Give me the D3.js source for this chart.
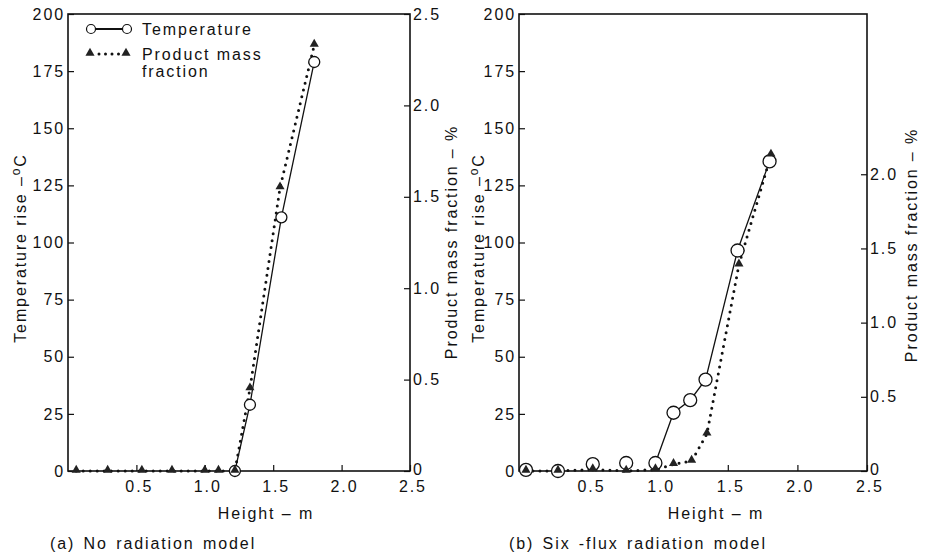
<!DOCTYPE html>
<html>
<head>
<meta charset="utf-8" />
<style>
  body { margin: 0; background: #fff; }
  svg text { font-family: "Liberation Sans", Arial, sans-serif; fill: #111; font-size: 16px; letter-spacing: 1.9px; }
</style>
</head>
<body>
<div id="chart"></div>
<script src="https://d3js.org/d3.v7.min.js"></script>
<script>
// shared ticks
const heightTicks = [0.5, 1.0, 1.5, 2.0, 2.5];
const tempTicks = [0, 25, 50, 75, 100, 125, 150, 175, 200];

// (a) no radiation model
const aTempHeight = [1.22, 1.33, 1.56, 1.80];
const aTemp = [0, 29, 111, 179];
const aProdHeight = [0.06, 0.29, 0.54, 0.76, 1.0, 1.1, 1.22, 1.33, 1.55, 1.80];
const aProd = [0, 0, 0, 0, 0, 0, 0, 0.45, 1.55, 2.33];
const aProdTicks = [0, 0.5, 1.0, 1.5, 2.0, 2.5];

// (b) six-flux radiation model
const bTempHeight = [0.05, 0.28, 0.53, 0.77, 0.98, 1.11, 1.23, 1.34, 1.57, 1.80];
const bTemp = [0.5, 0, 3, 3.5, 3.5, 25.5, 31, 40, 96.5, 135.5];
const bProdHeight = [0.05, 0.28, 0.53, 0.77, 0.98, 1.11, 1.24, 1.35, 1.58, 1.81];
const bProd = [0, 0, 0.01, 0, 0.01, 0.045, 0.067, 0.25, 1.39, 2.13];
const bProdTicks = [0, 0.5, 1.0, 1.5, 2.0];

const width = 926, height = 560;

const svg = d3.select("#chart").append("svg")
  .attr("width", width)
  .attr("height", height);

const zip = (xs, ys) => xs.map((x, i) => ({x: x, y: ys[i]}));

function drawPanel(p) {
  const g = svg.append("g");
  const x = d3.scaleLinear().domain([0, 2.5]).range([p.left, p.right]);
  const yT = d3.scaleLinear().domain([0, 200]).range([p.bottom, p.top]);
  const yP = d3.scaleLinear().domain([0, p.prodMax]).range([p.bottom, p.top]);

  const fmt = d => d === 0 ? "0" : d.toFixed(1);

  const xAxis = g.append("g").attr("transform", `translate(0,${p.bottom})`)
    .call(d3.axisBottom(x).tickValues(heightTicks).tickFormat(fmt).tickSize(-6).tickPadding(10));
  const yAxisL = g.append("g").attr("transform", `translate(${p.left},0)`)
    .call(d3.axisLeft(yT).tickValues(tempTicks).tickSize(-6).tickPadding(3));
  const yAxisR = g.append("g").attr("transform", `translate(${p.right},0)`)
    .call(d3.axisRight(yP).tickValues(p.prodTicks).tickFormat(fmt).tickSize(-6).tickPadding(3));

  [xAxis, yAxisL, yAxisR].forEach(a => {
    a.select(".domain").remove();
    a.selectAll("line").attr("stroke", "#111").attr("stroke-width", 1.2);
    a.selectAll("text").attr("font-size", null).attr("font-family", null).attr("fill", "#111");
  });
  xAxis.selectAll("text").attr("dx", "0.15em");
  // the zero label of the right axis sits just above the corner
  yAxisR.selectAll("text").filter(d => d === 0).attr("dy", "0.2em");

  // frame
  g.append("rect")
    .attr("x", p.left).attr("y", p.top)
    .attr("width", p.right - p.left).attr("height", p.bottom - p.top)
    .attr("fill", "none").attr("stroke", "#111").attr("stroke-width", 1.6);

  const tempPts = zip(p.tempHeight, p.temp);
  const prodPts = zip(p.prodHeight, p.prod);

  // product line (dotted)
  g.append("path")
    .datum(prodPts)
    .attr("fill", "none")
    .attr("stroke", "#111")
    .attr("stroke-width", 3)
    .attr("stroke-linecap", "round")
    .attr("stroke-dasharray", "0,7")
    .attr("d", d3.line().x(d => x(d.x)).y(d => yP(d.y)));

  // temperature line (solid) from where it starts rising
  g.append("path")
    .datum(tempPts.slice(p.tempLineFrom))
    .attr("fill", "none")
    .attr("stroke", "#111")
    .attr("stroke-width", 1.3)
    .attr("d", d3.line().x(d => x(d.x)).y(d => yT(d.y)));

  g.selectAll("circle.temp")
    .data(tempPts)
    .enter().append("circle")
    .attr("class", "temp")
    .attr("cx", d => x(d.x))
    .attr("cy", d => yT(d.y))
    .attr("r", p.circleR)
    .attr("fill", "#fff")
    .attr("stroke", "#111")
    .attr("stroke-width", 1.3);

  g.selectAll("path.prod")
    .data(prodPts)
    .enter().append("path")
    .attr("class", "prod")
    .attr("d", d3.symbol().type(d3.symbolTriangle).size(36))
    .attr("transform", d => `translate(${x(d.x)},${yP(d.y) - 1})`)
    .attr("fill", "#222");

  // axis titles
  const leftT = g.append("text")
    .attr("transform", `translate(${p.left - p.leftTitleOff},${p.leftTitleY}) rotate(-90)`)
    .attr("text-anchor", "middle")
    .text("Temperature rise –");
  leftT.append("tspan").attr("dy", -6).style("font-size", "12px").text("o");
  leftT.append("tspan").attr("dy", 6).text("C");

  g.append("text")
    .attr("transform", `translate(${p.right + p.rightTitleOff},${p.rightTitleY}) rotate(-90)`)
    .attr("text-anchor", "middle")
    .text("Product mass fraction – %");
  g.append("text")
    .attr("x", p.xTitleX)
    .attr("y", 519)
    .attr("text-anchor", "middle")
    .text("Height – m");
  g.append("text")
    .attr("x", p.captionX)
    .attr("y", 549)
    .attr("word-spacing", 2)
    .text(p.caption);

  return g;
}

const gA = drawPanel({
  left: 68, right: 410, top: 14, bottom: 471,
  prodMax: 2.5, prodTicks: aProdTicks,
  tempHeight: aTempHeight, temp: aTemp, tempLineFrom: 0,
  prodHeight: aProdHeight, prod: aProd,
  circleR: 5.5,
  leftTitleOff: 42, leftTitleY: 248,
  rightTitleOff: 47, rightTitleY: 242,
  xTitleX: 266,
  captionX: 50, caption: "(a)  No radiation model"
});

drawPanel({
  left: 519, right: 867, top: 14, bottom: 471,
  prodMax: 3.08, prodTicks: bProdTicks,
  tempHeight: bTempHeight, temp: bTemp, tempLineFrom: 4,
  prodHeight: bProdHeight, prod: bProd,
  circleR: 6.5,
  leftTitleOff: 35, leftTitleY: 248,
  rightTitleOff: 50, rightTitleY: 245,
  xTitleX: 716,
  captionX: 509, caption: "(b)  Six -flux radiation model"
});

// legend in panel (a)
const lg = gA.append("g");
lg.append("line").attr("x1", 91).attr("x2", 127).attr("y1", 29).attr("y2", 29)
  .attr("stroke", "#111").attr("stroke-width", 1.8);
[91, 127].forEach(cx => lg.append("circle").attr("cx", cx).attr("cy", 29).attr("r", 4.5)
  .attr("fill", "#fff").attr("stroke", "#111").attr("stroke-width", 1.2));
lg.append("text").attr("x", 142).attr("y", 35).text("Temperature");

lg.append("line").attr("x1", 99).attr("x2", 119).attr("y1", 54).attr("y2", 54)
  .attr("stroke", "#111").attr("stroke-width", 3)
  .attr("stroke-linecap", "round").attr("stroke-dasharray", "0,6.5");
[90, 126].forEach(cx => lg.append("path")
  .attr("d", d3.symbol().type(d3.symbolTriangle).size(36))
  .attr("transform", `translate(${cx},53)`).attr("fill", "#222"));
lg.append("text").attr("x", 142).attr("y", 60).text("Product mass");
lg.append("text").attr("x", 142).attr("y", 77).text("fraction");
</script>
</body>
</html>
